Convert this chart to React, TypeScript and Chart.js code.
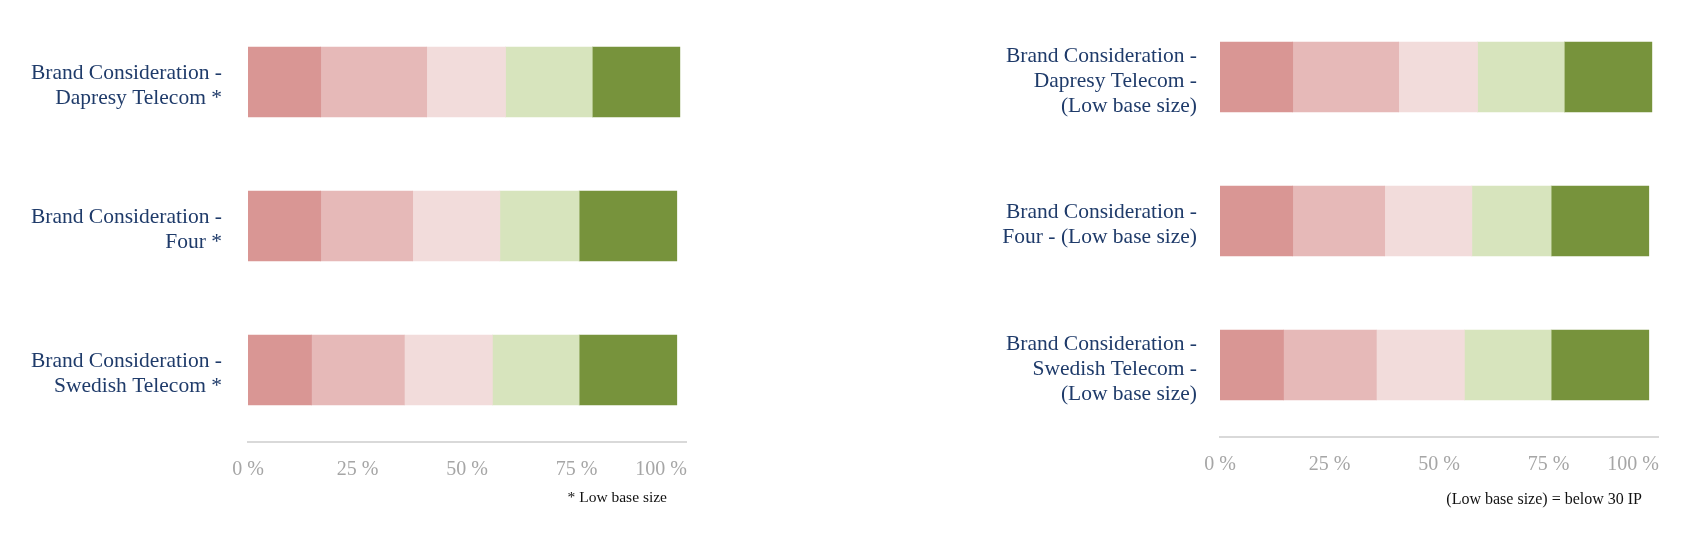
import React, { useEffect, useRef } from 'react';
import { Chart, registerables } from 'chart.js';

Chart.register(...registerables);

// categories (multi-line, as wrapped in the source)
const leftCategories = [
  ['Brand Consideration -', 'Dapresy Telecom *'],
  ['Brand Consideration -', 'Four *'],
  ['Brand Consideration -', 'Swedish Telecom *'],
];
const rightCategories = [
  ['Brand Consideration -', 'Dapresy Telecom -', '(Low base size)'],
  ['Brand Consideration -', 'Four - (Low base size)'],
  ['Brand Consideration -', 'Swedish Telecom -', '(Low base size)'],
];

// share per answer step, % (same for both panels)
const step1 = [16.6, 16.6, 14.5];
const step2 = [24.2, 21.0, 21.2];
const step3 = [18.0, 19.9, 20.1];
const step4 = [19.8, 18.1, 19.8];
const step5 = [20.0, 22.3, 22.3];

const stepNames = ['1', '2', '3', '4', '5'];
const stepColors = ['#d99694', '#e6b9b8', '#f2dcdb', '#d7e4bd', '#77933c'];

const xTicks = [0, 25, 50, 75, 100];

const NAVY = '#1f3b6a';
const GREY = '#a6a6a6';
const SERIF = '"Liberation Serif", "Times New Roman", serif';

interface PanelProps {
  categories: string[][];
  left: number;
  width: number;
  axisWidth: number;
  padTop: number;
  padBottom: number;
  labelGap: number;
}

const Panel: React.FC<PanelProps> = ({ categories, left, width, axisWidth, padTop, padBottom, labelGap }) => {
  const canvasRef = useRef<HTMLCanvasElement>(null);

  useEffect(() => {
    if (!canvasRef.current) return;
    const values = [step1, step2, step3, step4, step5];

    const chart = new Chart(canvasRef.current, {
      type: 'bar',
      data: {
        labels: categories,
        datasets: values.map((data, i) => ({
          label: stepNames[i],
          data,
          backgroundColor: stepColors[i],
          borderWidth: 0,
          barThickness: 70,
        })),
      },
      options: {
        indexAxis: 'y',
        responsive: false,
        animation: false,
        events: [],
        layout: { padding: { top: padTop, right: 60, bottom: padBottom, left: 0 } },
        plugins: { legend: { display: false }, tooltip: { enabled: false } },
        scales: {
          x: {
            stacked: true,
            min: 0,
            max: 100,
            afterBuildTicks: (scale: any) => {
              scale.ticks = xTicks.map((value) => ({ value }));
            },
            afterFit: (scale: any) => {
              scale.height = 40;
              scale.paddingLeft = 0;
              scale.paddingRight = 0;
            },
            grid: { display: false, drawTicks: false },
            border: { display: true, color: '#d9d9d9', width: 2 },
            ticks: {
              autoSkip: false,
              maxRotation: 0,
              minRotation: 0,
              padding: 16,
              color: GREY,
              font: { family: SERIF, size: 20 },
              // the last label sits flush with the axis end, as in the source
              callback: (v: any) => (Number(v) === 100 ? '100 %' + ' '.repeat(10) : `${v} %`),
            },
          },
          y: {
            stacked: true,
            afterFit: (scale: any) => {
              scale.width = axisWidth;
              scale.paddingTop = 0;
              scale.paddingBottom = 0;
            },
            grid: { display: false, drawTicks: false },
            border: { display: false },
            ticks: {
              padding: labelGap,
              labelOffset: 4,
              color: NAVY,
              font: { family: SERIF, size: 21.5, lineHeight: 1.16 },
            },
          },
        },
      },
    });

    return () => {
      chart.destroy();
    };
  }, [categories, axisWidth, padTop, padBottom, labelGap]);

  return (
    <div style={{ position: 'absolute', left, top: 0, width, height: 500 }}>
      <canvas ref={canvasRef} width={width} height={500} style={{ width, height: 500 }} />
    </div>
  );
};

const noteStyle: React.CSSProperties = {
  position: 'absolute',
  fontFamily: SERIF,
  lineHeight: 1,
  color: '#111',
  whiteSpace: 'nowrap',
  textAlign: 'right',
};

export default function App() {
  return (
    <div
      style={{ position: 'absolute', left: 0, top: 0, width: 1691, height: 541, overflow: 'hidden', background: '#fff' }}
      role="img"
      aria-label="Brand consideration, distribution per answer step"
    >
      <Panel categories={leftCategories} left={0} width={746} axisWidth={248} padTop={10} padBottom={18} labelGap={26} />
      <Panel categories={rightCategories} left={760} width={958} axisWidth={460} padTop={5} padBottom={23} labelGap={23} />
      <div style={{ ...noteStyle, right: 1691 - 667, top: 489, fontSize: 15.5 }}>* Low base size</div>
      <div style={{ ...noteStyle, right: 1691 - 1642, top: 491, fontSize: 16 }}>(Low base size) = below 30 IP</div>
    </div>
  );
}
